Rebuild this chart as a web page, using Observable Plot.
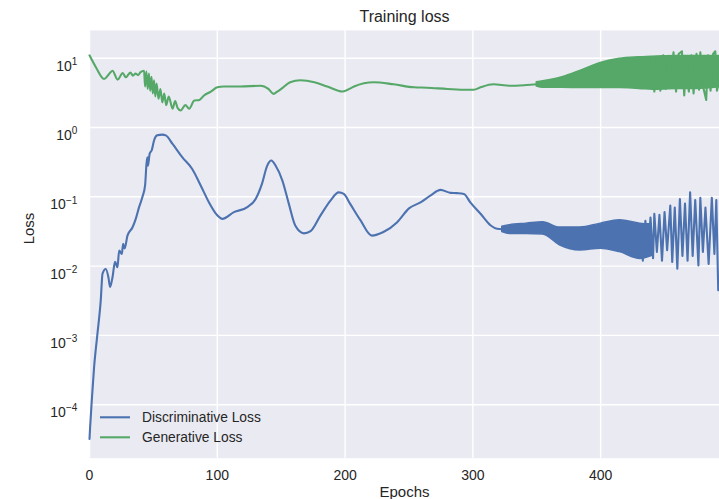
<!DOCTYPE html>
<html><head><meta charset="utf-8">
<script src="https://cdn.jsdelivr.net/npm/d3@7"></script>
<script src="https://cdn.jsdelivr.net/npm/@observablehq/plot@0.6"></script>
<style>body{margin:0;background:#fff;}</style>
</head><body><div id="chart"></div><script>
// ---- data ----
const title = "Training loss";
const xLabel = "Epochs";
const yLabel = "Loss";
const seriesNames = ["Discriminative Loss", "Generative Loss"];
const xTicks = [0, 100, 200, 300, 400];
const yTicks = [1e-4, 1e-3, 1e-2, 1e-1, 1, 10];

// Discriminative loss (smooth part)
const discEpoch = [0,0.5,1.8,3.6,6.2,8.8,10.2,12.7,14.8,16.1,18,20,21.9,23.2,25.3,26.3,27.5,29.7,33.6,36.2,38.8,41.4,43.5,44.6,45.3,45.7,47.1,48.7,50.5,53,57,59.7,65,72.7,80.5,87,93.5,100,104,113,123.5,130,135,139,142.3,145.7,151,156,161,167.8,173,180.8,188.7,195,199,204,212,221,230,240.8,250,259,267,274.7,282.5,287.7,293,298,306,314,319,323];
const discLoss  = [3.2e-5,4.8e-5,1.15e-4,3.5e-4,1.05e-3,3.2e-3,7.8e-3,9.1e-3,6.9e-3,5.0e-3,6.9e-3,1.15e-2,9.6e-3,1.68e-2,1.5e-2,2.1e-2,1.8e-2,2.75e-2,3.6e-2,4.8e-2,7.1e-2,0.099,0.146,0.30,0.37,0.28,0.42,0.47,0.65,0.77,0.79,0.77,0.58,0.37,0.25,0.146,0.083,0.054,0.048,0.060,0.071,0.093,0.155,0.28,0.334,0.28,0.17,0.079,0.0385,0.0297,0.032,0.054,0.089,0.116,0.110,0.079,0.046,0.0275,0.031,0.043,0.068,0.083,0.105,0.126,0.114,0.113,0.110,0.083,0.057,0.0385,0.0345,0.034];
// Discriminative loss: dense oscillation envelope
const discBandEpoch = [323,329,342,355,368,384,400,415,431,440];
const discBandLow   = [0.031,0.029,0.029,0.0286,0.020,0.0168,0.0178,0.0159,0.0127,0.014];
const discBandHigh  = [0.037,0.039,0.041,0.043,0.036,0.036,0.041,0.046,0.041,0.040];
// Discriminative loss: sparse spikes at the end
const discTailEpoch = [431,433,435,437,439,441,442,444,446,448,450,452,454.5,456,458,460,462,464,466,468,470,472,474,476.5,478,480,482,484.5,487,489,490.5,492,493];
const discTailLoss  = [0.025,0.012,0.045,0.015,0.050,0.013,0.057,0.016,0.055,0.012,0.060,0.017,0.075,0.0115,0.070,0.0092,0.093,0.014,0.080,0.012,0.116,0.014,0.090,0.0102,0.097,0.016,0.070,0.0107,0.097,0.015,0.090,0.0045,0.006];

// Generative loss (smooth part)
const genEpoch = [0,5,11.4,15,18,22,26,28.4,32,34,36,38,40,42.7,43.5,44.5,45.5,46.5,47.5,48.5,49.5,50.5,51.5,52.5,54,55.5,57,58.5,60,62,65,67,69,71.4,75,78,82,86,89.6,95,100,105,118,134,140,144,147,150,157,165,176,186,198,202,207,222.5,238,254,264,280,295.5,300.7,306,316,329,342,350];
const genLoss  = [11.0,7.4,5.0,5.8,6.6,4.9,6.1,5.3,6.2,5.6,6.0,5.7,6.3,6.6,3.9,6.4,3.6,6.0,3.4,5.4,3.1,4.8,2.8,4.3,2.6,3.6,2.3,3.1,2.1,2.8,1.87,2.4,1.9,1.76,2.1,1.87,2.45,2.5,2.9,3.3,3.8,3.9,3.9,4.0,3.6,3.06,3.3,3.6,4.5,4.8,4.5,3.9,3.3,3.5,3.9,4.5,4.2,3.8,3.75,3.6,3.5,3.5,3.8,4.2,4.0,4.1,4.2];
// Generative loss: dense oscillation envelope
const genBandEpoch = [350,355,370,385,400,415,430,445,460,475,493];
const genBandLow   = [3.9,3.74,3.74,3.7,3.7,3.7,3.6,3.5,3.6,3.6,3.8];
const genBandHigh  = [4.5,4.65,5.3,6.65,8.5,9.8,10.3,10.6,10.8,10.8,10.8];
// Generative loss: spikes at the end
const genTailEpoch = [440,442,444,446.7,449,451,453,455,457,459,461,463.6,465.4,467,469,471,472.7,475,477,478,480,482.6,484,486,488,489.7,491,493];
const genTailLoss  = [9.5,3.3,10.5,3.4,11,3.6,10.8,4.0,12.2,3.3,11.5,12.6,2.9,10.5,3.3,11.0,3.1,11.6,3.5,12.2,4.0,2.5,11.0,3.4,11.5,12.6,3.4,5.0];

// ---- tables ----
const line = (xs, ys) => xs.map((x, i) => ({x, y: ys[i]}));
const band = (xs, lo, hi) => xs.map((x, i) => ({x, y1: lo[i], y2: hi[i]}));

const BLUE = "#4C72B0", GREEN = "#55A868", BG = "#EAEAF2", INK = "#262626";
const SW = 2.1;
const FONT = "'Liberation Sans', Arial, sans-serif";

const svg = Plot.plot({
  width: 719, height: 499,
  marginLeft: 89, marginRight: 0, marginTop: 30, marginBottom: 41.3,
  style: {fontFamily: FONT, fontSize: "14px", color: INK, background: "#fff", overflow: "visible"},
  x: {domain: [0, 493], label: null},
  y: {type: "log", domain: [1.69e-5, 25.1], label: null},
  marks: [
    Plot.frame({fill: BG, stroke: "none"}),
    Plot.gridX(xTicks, {stroke: "#fff", strokeOpacity: 1, strokeWidth: 1.4}),
    Plot.gridY(yTicks, {stroke: "#fff", strokeOpacity: 1, strokeWidth: 1.4}),
    Plot.areaY(band(discBandEpoch, discBandLow, discBandHigh), {x: "x", y1: "y1", y2: "y2", fill: BLUE, stroke: BLUE, strokeWidth: 1.5, curve: "monotone-x"}),
    Plot.line(line(discEpoch, discLoss), {x: "x", y: "y", stroke: BLUE, strokeWidth: SW, curve: "monotone-x"}),
    Plot.line(line(discTailEpoch, discTailLoss), {x: "x", y: "y", stroke: BLUE, strokeWidth: SW}),
    Plot.areaY(band(genBandEpoch, genBandLow, genBandHigh), {x: "x", y1: "y1", y2: "y2", fill: GREEN, stroke: GREEN, strokeWidth: 1.5, curve: "monotone-x"}),
    Plot.line(line(genEpoch, genLoss), {x: "x", y: "y", stroke: GREEN, strokeWidth: SW, curve: "monotone-x"}),
    Plot.line(line(genTailEpoch, genTailLoss), {x: "x", y: "y", stroke: GREEN, strokeWidth: SW}),
    Plot.axisX(xTicks, {tickSize: 0, tickPadding: 11.7, fontSize: 14, label: null, tickFormat: d => String(d)}),
    Plot.axisY(yTicks, {tickSize: 0, tickPadding: 12.2, fontSize: 14, label: null, tickFormat: d => "10^" + Math.round(Math.log10(d))}),
    Plot.text([title], {frameAnchor: "top", lineAnchor: "middle", dy: -13.4, fontSize: 16, fill: INK}),
    Plot.text([xLabel], {frameAnchor: "bottom", lineAnchor: "middle", dy: 34.2, fontSize: 15, fill: INK}),
    Plot.text([yLabel], {frameAnchor: "left", lineAnchor: "middle", dx: -60, rotate: -90, fontSize: 15, fill: INK})
  ]
});

// superscript exponents on the log-axis tick labels
const NS = "http://www.w3.org/2000/svg";
svg.querySelectorAll('[aria-label="y-axis tick label"] text').forEach(t => {
  const exp = t.textContent.split("^")[1].replace("-", "\u2212");
  t.textContent = "";
  t.setAttribute("dy", "8");
  const base = document.createElementNS(NS, "tspan");
  base.textContent = "10";
  const sup = document.createElementNS(NS, "tspan");
  sup.textContent = exp;
  sup.setAttribute("dy", "-5.7");
  sup.setAttribute("font-size", "10");
  t.appendChild(base); t.appendChild(sup);
});

// legend (lower left, inside the axes)
const lg = d3.select(svg).append("g")
  .attr("font-family", FONT).attr("font-size", 13.8).attr("fill", INK).attr("text-anchor", "start");
[[BLUE, 417.3], [GREEN, 437.3]].forEach(([c, y], i) => {
  lg.append("line").attr("x1", 100).attr("x2", 130).attr("y1", y).attr("y2", y)
    .attr("stroke", c).attr("stroke-width", SW);
  lg.append("text").attr("x", 142).attr("y", y + 4.6).attr("text-anchor", "start").text(seriesNames[i]);
});

document.getElementById("chart").appendChild(svg);
</script></body></html>
